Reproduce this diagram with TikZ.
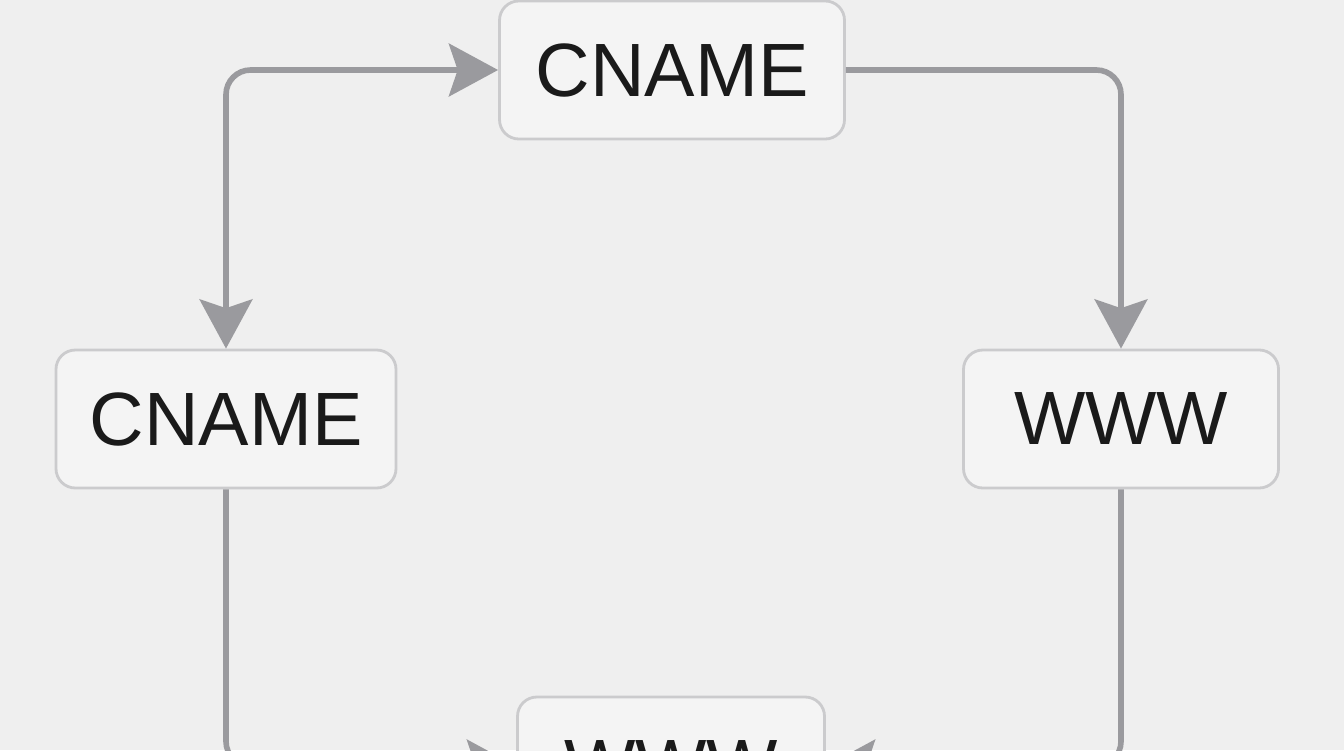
\documentclass[tikz,border=0pt]{standalone}
\usepackage{fontspec}
\setmainfont{Liberation Sans}
\usepackage{tikz}
\usetikzlibrary{arrows.meta}

\definecolor{fundo}{HTML}{EFEFEF}
\definecolor{caixa}{HTML}{F4F4F4}
\definecolor{borda}{HTML}{CBCBCD}
\definecolor{seta}{HTML}{9A9A9E}
\definecolor{texto}{HTML}{1A1A1A}

\begin{document}
\begin{tikzpicture}[x=0.02cm, y=-0.02cm,
    registro/.style={draw=borda, fill=caixa, line width=1.6pt, rounded corners=11pt,
        minimum height=138*0.02cm, text=texto, font=\fontsize{43}{50}\selectfont},
    ligacao/.style={draw=seta, line width=3.2pt, rounded corners=14pt,
        -{Stealth[length=28pt, width=30pt, inset=5pt]}}]
    \useasboundingbox (0,0) rectangle (1344,750);
    \fill[fundo] (0,0) rectangle (1344,750);
    \clip (0,0) rectangle (1344,750);

    % caixas
    \node[registro, minimum width=345*0.02cm] (cnameTopo) at (672,70) {CNAME};
    \node[registro, minimum width=340*0.02cm] (cnameEsq) at (226,419) {CNAME};
    \node[registro, minimum width=315*0.02cm] (wwwDir) at (1121,419) {WWW};
    \node[registro, minimum width=307*0.02cm] (wwwBaixo) at (671,766) {WWW};

    % ligacao entre CNAME e CNAME (duas pontas)
    \draw[ligacao, {Stealth[length=28pt, width=30pt, inset=5pt]}-{Stealth[length=28pt, width=30pt, inset=5pt]}]
        (cnameEsq.north) |- (cnameTopo.west);
    % CNAME para WWW
    \draw[ligacao] (cnameTopo.east) -| (wwwDir.north);

    % descidas ate o WWW de baixo
    \draw[ligacao] (cnameEsq.south) |- (wwwBaixo.west);
    \draw[ligacao] (wwwDir.south) |- (wwwBaixo.east);

\end{tikzpicture}
\end{document}
